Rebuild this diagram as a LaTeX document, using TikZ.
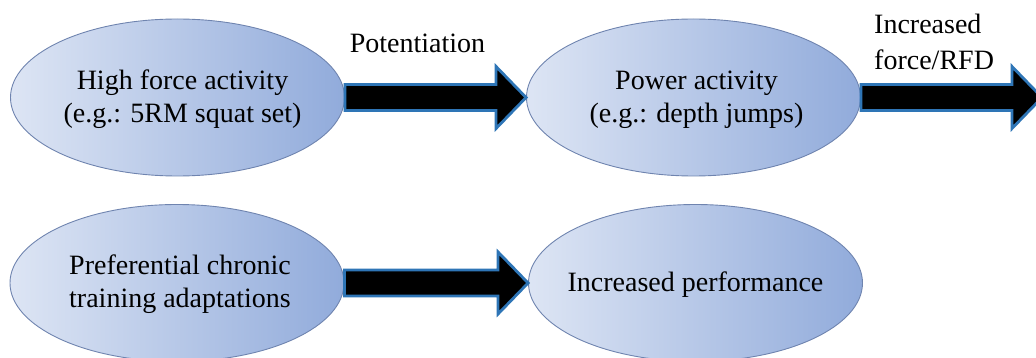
\documentclass[tikz,border=0pt]{standalone}
\usepackage{fontspec}
\setmainfont{Liberation Serif}
\usetikzlibrary{shapes.geometric,calc}
\definecolor{ovlL}{HTML}{DDE5F4}
\definecolor{ovlR}{HTML}{91ABDB}
\definecolor{ovlEdge}{HTML}{6F84AF}
\definecolor{arrEdge}{HTML}{2E75B6}
\tikzset{
  oval/.style={ellipse, draw=ovlEdge, line width=0.9pt, left color=ovlL, right color=ovlR,
    minimum width=334pt, minimum height=157pt, inner sep=0pt},
  txt/.style={font=\fontsize{28}{33}\selectfont, align=center, inner sep=0pt, text=black},
  lbl/.style={font=\fontsize{28}{36}\selectfont, inner sep=0pt, text=black},
  barrow/.style={fill=black, draw=arrEdge, line width=2.8pt, line join=miter}
}
\newcommand{\blockarrow}[2]{%
  \draw[barrow] let \p1=(#1), \p2=(#2) in
    (\x1,\y1+13) -- (\x2-30,\y1+13) -- (\x2-30,\y1+31) -- (\x2,\y1)
    -- (\x2-30,\y1-31) -- (\x2-30,\y1-13) -- (\x1,\y1-13) -- cycle;}
\begin{document}
\begin{tikzpicture}[x=1pt,y=-1pt]
\useasboundingbox (0,0) rectangle (1036,358);
\clip (0,0) rectangle (1036,358);
% ovals
\node[oval] (e1) at (177.5,97.5) {};
\node[oval] (e2) at (693.5,97.5) {};
\node[oval] (e3) at (177,283) {};
\node[oval] (e4) at (695.5,283) {};
% texts
\node[txt] (t1) at ($(e1.center)+(5,2)$) {High force activity\\(e.g.: 5RM squat set)};
\node[txt] (t2) at ($(e2.center)+(3,2)$) {Power activity\\(e.g.: depth jumps)};
\node[txt] (t3) at ($(e3.center)+(3,1)$) {Preferential chronic\\training adaptations};
\node[txt] (t4) at ($(e4.center)+(0,2)$) {Increased performance};
% arrows
\coordinate (a2end) at (1042,96);
\blockarrow{e1.east}{e2.west}
\blockarrow{e2.east}{a2end}
\blockarrow{e3.east}{e4.west}
% labels
\node[lbl] (p1) at (417.5,43) {Potentiation};
\node[lbl, align=left, anchor=north west] (p2) at (874,14) {Increased\\force/RFD};
\end{tikzpicture}
\end{document}
